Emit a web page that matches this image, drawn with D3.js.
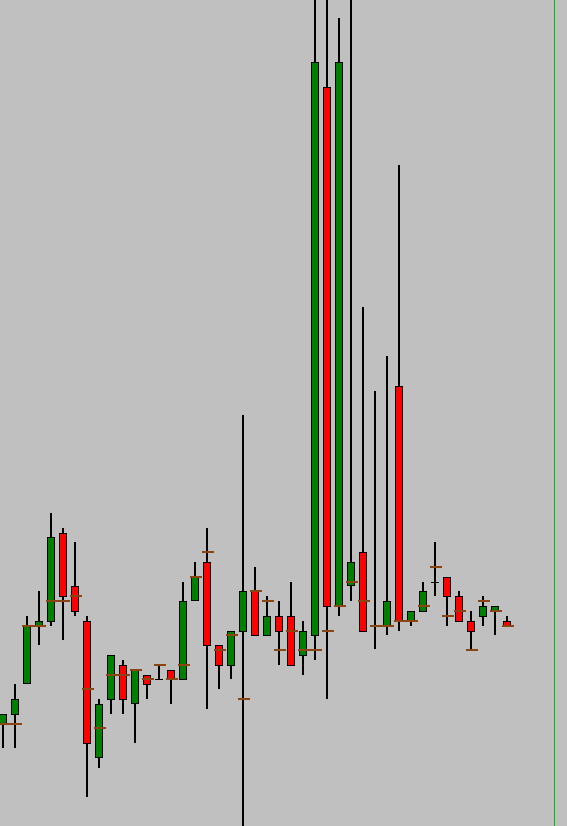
<!DOCTYPE html>
<html>
<head>
<meta charset="utf-8">
<script src="https://cdn.jsdelivr.net/npm/d3@7"></script>
<style>
  html, body { margin: 0; padding: 0; background: #c0c0c0; overflow: hidden; }
  svg { display: block; }
</style>
</head>
<body>
<svg id="chart" width="567" height="826"></svg>
<script>
const openP  = [1.3101,1.3111,1.3142,1.3200,1.3204,1.3293,1.3240,1.3205,1.3068,1.3126,1.3161,1.3122,1.3151,1.31465,1.3156,1.3146,1.3225,1.3264,1.3181,1.3160,1.3194,1.3235,1.3190,1.3210,1.3210,1.3170,1.3190,1.3739,1.3219,1.3240,1.3274,1.3200,1.3200,1.3440,1.3205,1.3214,1.3244,1.3249,1.3230,1.3205,1.3209,1.3215,1.3205];
const highP  = [1.3112,1.3142,1.3210,1.3235,1.3313,1.3298,1.3284,1.3210,1.3127,1.3171,1.3166,1.3156,1.3151,1.3161,1.3156,1.3244,1.3264,1.3298,1.3181,1.3195,1.3411,1.3259,1.3230,1.3225,1.3244,1.3205,1.3856,1.3856,1.3808,1.3856,1.3519,1.3435,1.3470,1.3661,1.3215,1.3244,1.3284,1.3249,1.3235,1.3215,1.3230,1.3220,1.3210];
const lowP   = [1.3078,1.3078,1.3142,1.3181,1.3200,1.3186,1.3210,1.3029,1.3058,1.3112,1.3112,1.3083,1.3127,1.31465,1.3122,1.3146,1.3225,1.3117,1.3137,1.3147,1.2986,1.3190,1.3190,1.3161,1.3160,1.3151,1.3166,1.3127,1.3210,1.3225,1.3194,1.3177,1.3191,1.3195,1.3200,1.3214,1.3230,1.3200,1.3204,1.3176,1.3200,1.3191,1.3200];
const closeP = [1.3112,1.3127,1.3200,1.3205,1.3289,1.3229,1.3214,1.3082,1.3122,1.3171,1.3126,1.3156,1.3141,1.31465,1.3147,1.3225,1.3249,1.3180,1.3160,1.3195,1.3235,1.3190,1.3210,1.3194,1.3160,1.3195,1.3764,1.3219,1.3764,1.3264,1.3194,1.3200,1.3225,1.3205,1.3215,1.3235,1.3244,1.3229,1.3204,1.3194,1.3220,1.3220,1.3200];
const markP  = [1.3102,1.3102,1.3200,1.3200,1.3225,1.3225,1.3230,1.3137,1.3098,1.3151,1.3151,1.3156,1.3147,1.3161,1.3147,1.3161,1.3249,1.3274,1.3176,1.3191,1.3127,1.3235,1.3225,1.3176,1.3195,1.3176,1.3176,1.3195,1.3220,1.3244,1.3225,1.3200,1.3200,1.3205,1.3205,1.3220,1.3259,1.3210,1.3215,1.3176,1.3225,1.3215,1.3200];
const crossIdx = [36];

const W = 567, H = 826;
const svg = d3.select("#chart");
svg.append("rect").attr("width", W).attr("height", H).attr("fill", "#c0c0c0");

const n = openP.length;
const x = d3.scaleLinear().domain([0, n - 1]).range([3, 3 + 12 * (n - 1)]);
const y = d3.scaleLinear().domain([1.3000, 1.3826]).range([826, 0]);

const data = d3.range(n).map(i => ({i, o: openP[i], h: highP[i], l: lowP[i], c: closeP[i], m: markP[i]}));

const g = svg.append("g");

// wicks
g.selectAll("line.wick").data(data).join("line")
  .attr("class", "wick")
  .attr("x1", d => x(d.i)).attr("x2", d => x(d.i))
  .attr("y1", d => Math.round(y(d.h))).attr("y2", d => Math.round(y(d.l)))
  .attr("stroke", "#000").attr("stroke-width", 2);

// bodies
const bodies = data.filter(d => Math.abs(Math.round(y(d.o)) - Math.round(y(d.c))) >= 2);
g.selectAll("rect.body").data(bodies).join("rect")
  .attr("class", "body")
  .attr("x", d => x(d.i) - 3.5)
  .attr("width", 7)
  .attr("y", d => Math.round(Math.min(y(d.o), y(d.c))) + 0.5)
  .attr("height", d => Math.abs(Math.round(y(d.o)) - Math.round(y(d.c))) - 1)
  .attr("fill", d => d.c >= d.o ? "#008000" : "#ff0000")
  .attr("stroke", "#000").attr("stroke-width", 1);

// doji bodies as flat lines
const dojis = data.filter(d => Math.abs(Math.round(y(d.o)) - Math.round(y(d.c))) < 2);
g.selectAll("line.doji").data(dojis).join("line")
  .attr("class", "doji")
  .attr("x1", d => x(d.i) - 4).attr("x2", d => x(d.i) + 4)
  .attr("y1", d => Math.floor(y(d.o)) + 0.5).attr("y2", d => Math.floor(y(d.o)) + 0.5)
  .attr("stroke", "#000").attr("stroke-width", 1);

// brown markers
g.selectAll("rect.mark").data(data).join("rect")
  .attr("class", "mark")
  .attr("x", d => x(d.i) - 5)
  .attr("width", 12)
  .attr("y", d => Math.round(y(d.m)) - 1)
  .attr("height", 2)
  .attr("fill", "#8b4513");

// vertical green line
svg.append("line")
  .attr("x1", 554.5).attr("x2", 554.5).attr("y1", 0).attr("y2", H)
  .attr("stroke", "#00c000").attr("stroke-width", 1);
</script>
</body>
</html>
